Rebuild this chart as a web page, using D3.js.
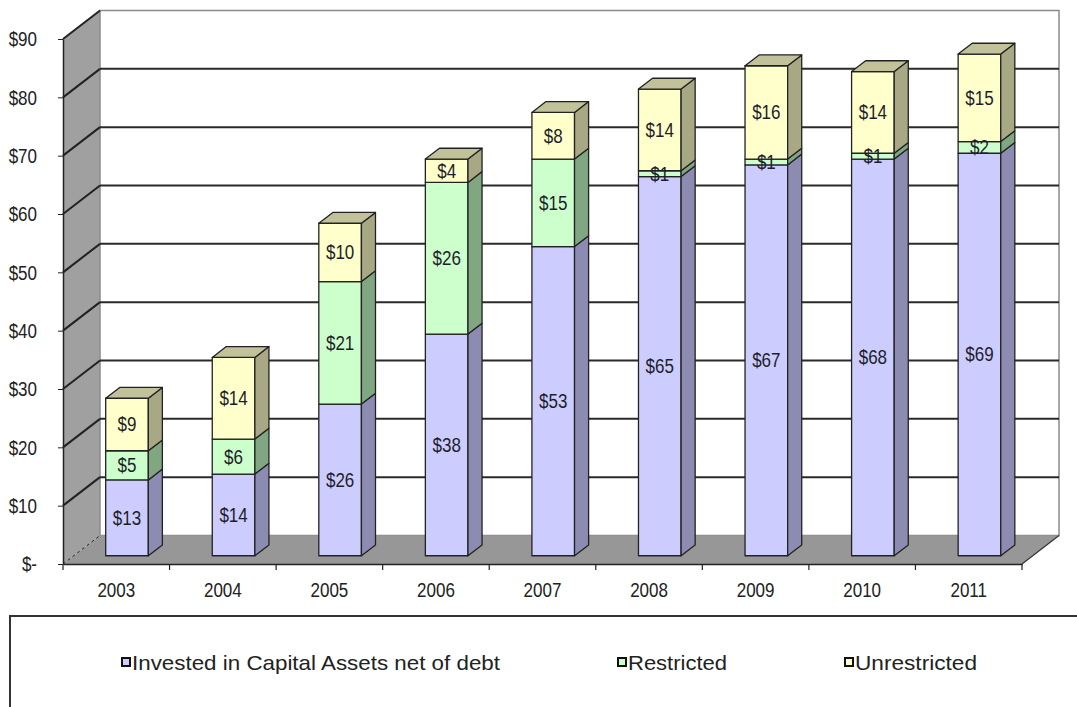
<!DOCTYPE html>
<html>
<head>
<meta charset="utf-8">
<script src="https://cdn.jsdelivr.net/npm/d3@7"></script>
<style>
  html, body { margin: 0; padding: 0; background: #fff; }
  svg { display: block; font-family: "Liberation Sans", Arial, sans-serif; }
</style>
</head>
<body>
<svg id="chart" width="1077" height="707"></svg>
<script>
// Net position by component, millions of dollars
const years = ["2003", "2004", "2005", "2006", "2007", "2008", "2009", "2010", "2011"];
const invested = [13, 14, 26, 38, 53, 65, 67, 68, 69];
const restricted = [5, 6, 21, 26, 15, 1, 1, 1, 2];
const unrestricted = [9, 14, 10, 4, 8, 14, 16, 14, 15];
const seriesNames = ["Invested in Capital Assets net of debt", "Restricted", "Unrestricted"];
const yTicks = [0, 10, 20, 30, 40, 50, 60, 70, 80, 90];

const palette = [
  { front: "#ccccff", side: "#8c8cb2", top: "#a8a8d4" },
  { front: "#ccffcc", side: "#80a682", top: "#a8d0a8" },
  { front: "#ffffcc", side: "#a8a884", top: "#c2c29a" }
];

const FONT = "'Liberation Sans', Arial, sans-serif";
const STRETCH = 1.16;   // glyphs are drawn slightly taller than wide

const svg = d3.select("#chart");

// plot frame (front plane) and the depth vector of the 3-D box
const x0 = 63, x1 = 1022;
const DX = 37, DY = 28.5;
const x = d3.scaleBand().domain(years).range([x0, x1]).paddingInner(0.6).paddingOuter(0.3);
const y = d3.scaleLinear().domain([0, 90]).range([564, 39]);

// projection of (screen x on front plane, value, depth 0..1)
const P = (sx, v, z) => [sx + z * DX, y(v) - z * DY];
const pts = arr => arr.map(p => p.join(",")).join(" ");

// text placed at (px, py), centred vertically and stretched
function label(parent, px, py, str, anchor, size, stretch) {
  return parent.append("text")
    .attr("transform", `translate(${px},${py}) scale(1,${stretch || STRETCH})`)
    .attr("text-anchor", anchor || "middle")
    .attr("dominant-baseline", "central")
    .attr("font-family", FONT)
    .attr("font-size", size || 17)
    .attr("fill", "#222")
    .text(str);
}

// ---- walls and floor
const yMax = 90;
svg.append("polygon")
  .attr("points", pts([P(x0, yMax, 0), P(x0, yMax, 1), P(x0, 0, 1), P(x0, 0, 0)]))
  .attr("fill", "#a0a0a0");
svg.append("polygon")
  .attr("points", pts([P(x0, yMax, 1), P(x1, yMax, 1), P(x1, 0, 1), P(x0, 0, 1)]))
  .attr("fill", "#ffffff").attr("stroke", "#8a8a8a").attr("stroke-width", 1.5);
svg.append("polygon")
  .attr("points", pts([P(x0, 0, 0), P(x1, 0, 0), P(x1, 0, 1), P(x0, 0, 1)]))
  .attr("fill", "#979797");
svg.append("line")
  .attr("x1", P(x1, 0, 0)[0]).attr("y1", P(x1, 0, 0)[1])
  .attr("x2", P(x1, 0, 1)[0]).attr("y2", P(x1, 0, 1)[1])
  .attr("stroke", "#333").attr("stroke-width", 1.2);

// ---- gridlines across the side wall and back wall
const grid = svg.append("g");
yTicks.forEach(v => {
  const a = P(x0, v, 0), b = P(x0, v, 1), c = P(x1, v, 1);
  grid.append("line")
    .attr("x1", a[0]).attr("y1", a[1]).attr("x2", b[0]).attr("y2", b[1])
    .attr("stroke", "#222").attr("stroke-width", v === 0 ? 1 : 2)
    .attr("stroke-dasharray", v === 0 ? "3,3" : null);
  if (v > 0 && v < yMax) {
    grid.append("line")
      .attr("x1", b[0]).attr("y1", b[1]).attr("x2", c[0]).attr("y2", c[1])
      .attr("stroke", "#2a2a2a").attr("stroke-width", 2);
  }
});

// ---- axes
const yAxis = d3.axisLeft(y)
  .tickValues(yTicks)
  .tickSize(5)
  .tickSizeOuter(0)
  .tickFormat(d => d === 0 ? "$-" : "$" + d);
const gy = svg.append("g").attr("transform", `translate(${x0},0)`).call(yAxis);
gy.select(".domain").attr("stroke", "#222").attr("stroke-width", 1.5);
gy.selectAll(".tick line").attr("stroke", "#222");
gy.selectAll(".tick text").remove();
gy.selectAll(".tick").each(function (d) {
  label(d3.select(this), -26, 0, d === 0 ? "$-" : "$" + d, "end");
});

const xAxis = d3.axisBottom(x).tickSize(0).tickSizeOuter(0);
const gx = svg.append("g").attr("transform", `translate(0,${y(0)})`).call(xAxis);
gx.select(".domain").attr("stroke", "#222").attr("stroke-width", 1.5);
gx.selectAll(".tick text").remove();
gx.selectAll(".tick").each(function (d) {
  label(d3.select(this), 0, 26, d);
});
// category boundary ticks
const step = x.step();
d3.range(years.length + 1).forEach(i => {
  const tx = x0 + i * step;
  gx.append("line").attr("x1", tx).attr("x2", tx).attr("y1", 0).attr("y2", 6)
    .attr("stroke", "#222").attr("stroke-width", 1.2);
});

// ---- stacked 3-D columns
const zA = 0.29, zB = 0.67;
const stackData = years.map((yr, i) => ({
  year: yr, s0: invested[i], s1: restricted[i], s2: unrestricted[i]
}));
const stack = d3.stack().keys(["s0", "s1", "s2"])(stackData);

const bars = svg.append("g");
years.forEach((yr, i) => {
  const bx = x(yr), bw = x.bandwidth();
  const g = bars.append("g");
  stack.forEach((layer, k) => {
    const lo = layer[i][0], hi = layer[i][1];
    const c = palette[k];
    // front face
    g.append("polygon")
      .attr("points", pts([P(bx, lo, zA), P(bx + bw, lo, zA), P(bx + bw, hi, zA), P(bx, hi, zA)]))
      .attr("fill", c.front).attr("stroke", "#222").attr("stroke-width", 1.3).attr("stroke-linejoin", "round");
    // right side face
    g.append("polygon")
      .attr("points", pts([P(bx + bw, lo, zA), P(bx + bw, lo, zB), P(bx + bw, hi, zB), P(bx + bw, hi, zA)]))
      .attr("fill", c.side).attr("stroke", "#222").attr("stroke-width", 1.3).attr("stroke-linejoin", "round");
    if (k === stack.length - 1) {
      g.append("polygon")
        .attr("points", pts([P(bx, hi, zA), P(bx + bw, hi, zA), P(bx + bw, hi, zB), P(bx, hi, zB)]))
        .attr("fill", c.top).attr("stroke", "#222").attr("stroke-width", 1.3).attr("stroke-linejoin", "round");
    }
  });
  // value labels centred on each front face
  stack.forEach((layer, k) => {
    const lo = layer[i][0], hi = layer[i][1];
    const p = P(bx + bw / 2, (lo + hi) / 2, zA);
    label(g, p[0], p[1], "$" + (hi - lo)).attr("fill", "#1e1e2a");
  });
});

// ---- legend
const lg = svg.append("g");
lg.append("rect").attr("x", 10).attr("y", 616).attr("width", 1100).attr("height", 120)
  .attr("fill", "#fff").attr("stroke", "#333").attr("stroke-width", 2);
const legendX = [122, 618, 845];
const legendW = [368, 99, 122];
seriesNames.forEach((name, k) => {
  lg.append("rect").attr("x", legendX[k]).attr("y", 658).attr("width", 8).attr("height", 8)
    .attr("fill", palette[k].front).attr("stroke", "#111").attr("stroke-width", 2);
  label(lg, legendX[k] + 10, 662, name, "start", 20, 1.05)
    .attr("textLength", legendW[k]).attr("lengthAdjust", "spacingAndGlyphs");
});
</script>
</body>
</html>
